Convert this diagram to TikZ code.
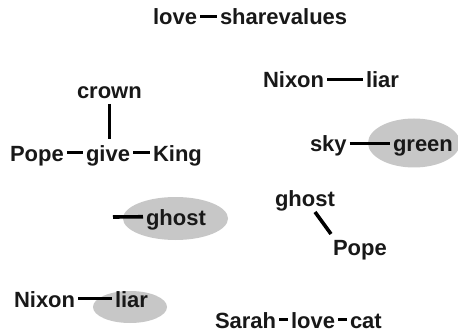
\documentclass[tikz,border=0pt]{standalone}
\usepackage{fontspec}
\setmainfont{Liberation Sans}
\usetikzlibrary{shapes.geometric}
\definecolor{ink}{RGB}{24,24,24}
\definecolor{blobgray}{RGB}{199,199,199}
\begin{document}
\begin{tikzpicture}[x=1pt,y=-1pt,
  word/.style={anchor=base west, inner xsep=3pt, inner ysep=5pt, outer sep=0pt,
    text height=17pt, text depth=0pt, text=ink,
    font=\fontsize{22}{24}\selectfont\bfseries},
  link/.style={draw=black, line width=3.6pt},
  blob/.style={ellipse, fill=blobgray, draw=none, inner sep=0pt}]
\useasboundingbox (0,0) rectangle (458,334);

% shaded ellipses behind the highlighted words
\node[blob, minimum width=92pt, minimum height=49pt] (bgreen) at (414,143) {};
\node[blob, minimum width=105pt, minimum height=43pt] (bghost) at (175.5,218.5) {};
\node[blob, minimum width=74pt, minimum height=32pt] (bliar) at (130,307) {};

% love - share values
\node[word] (love1) at (150,25) {love};
\node[word] (share) at (217,25) {sharevalues};
\draw[link] (love1) -- (share);

% crown / Pope - give - King
\node[word] (crown) at (74,99) {crown};
\node[word] (pope1) at (7,161) {Pope};
\node[word] (give) at (83,161) {give};
\node[word] (king) at (150,161) {King};
\draw[link] (crown.south) -- (crown.south |- give.north);
\draw[link] (pope1) -- (give);
\draw[link] (give) -- (king);

% Nixon - liar (top)
\node[word] (nixon1) at (260,88) {Nixon};
\node[word] (liar1) at (363,88) {liar};
\draw[link] (nixon1) -- (liar1);

% sky - green
\node[word] (sky) at (307,152) {sky};
\node[word] (green) at (390,152) {green};
\draw[link] (sky) -- (green);

% dangling link into ghost
\coordinate (loose) at (113,217);
\node[word] (ghost1) at (143,225) {ghost};
\draw[link] (loose) -- (ghost1);

% ghost \ Pope
\node[word] (ghost2) at (272,207) {ghost};
\node[word] (pope2) at (330,255) {Pope};
\draw[link] ([shift={(43,5)}]ghost2.base west) -- ([shift={(1,-21)}]pope2.base west);

% Nixon - liar (bottom)
\node[word] (nixon2) at (11,307) {Nixon};
\node[word] (liar2) at (112,307) {liar};
\draw[link] (nixon2) -- (liar2);

% Sarah - love - cat (last row sits on the lower edge)
\begin{scope}[every node/.append style={inner ysep=1pt}]
\node[word] (sarah) at (212,328) {Sarah};
\node[word] (love2) at (288,328) {love};
\node[word] (cat) at (347,328) {cat};
\end{scope}
\draw[link] (sarah) -- (love2);
\draw[link] (love2) -- (cat);
\end{tikzpicture}
\end{document}
